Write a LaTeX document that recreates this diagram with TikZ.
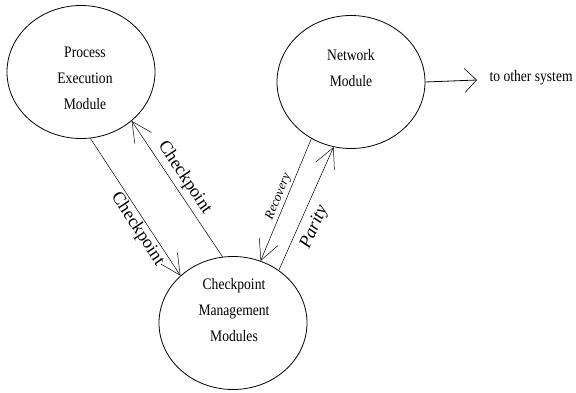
\documentclass[tikz,border=0pt]{standalone}
\usepackage{fontspec}
\setmainfont{Liberation Serif}[FakeStretch=0.85]
\newfontfamily\lblfont{Liberation Serif}
\usepackage{tikz}
\usetikzlibrary{arrows.meta}
\usetikzlibrary{shapes.geometric}
\tikzset{module/.style = {draw, ellipse, line width = 0.8pt, inner sep = 0,
                          minimum width = 148, minimum height = 133}}
\tikzset{modtext/.style = {align = center, font = \fontsize{16}{26}\selectfont}}
\tikzset{link/.style = {line width = 0.5pt,
                        -{Straight Barb[length = 20pt, width = 20pt, line width = 0.5pt]}}}
\tikzset{lbl/.style = {sloped, inner sep = 2pt, font = \lblfont\fontsize{18}{18}\selectfont}}

\begin{document}
\begin{tikzpicture}[x = 1pt, y = -1pt]
    \useasboundingbox (0, 0) rectangle (576, 393);
    \node [module] (proc) at (81, 72) {};
    \node [module] (net) at (351, 82) {};
    \node [module] (mgmt) at (233, 323) {};
    \node [modtext] (proctext) at (85, 78) {Process\\Execution\\Module};
    \node [modtext] (nettext) at (351, 68) {Network\\Module};
    \node [modtext] (mgmttext) at (234, 310) {Checkpoint\\Management\\Modules};
    \coordinate (out) at (477, 80);
    \node [anchor = west, font = \fontsize{16}{16}\selectfont] (other) at (486, 78) {to other system};
    \draw [line width = 0.8pt, -{Straight Barb[length = 12pt, width = 24pt, line width = 0.6pt]}] (net.east) -- (out);
    \draw [link] (proc.-82) -- node [lbl, below, pos = 0.62] {Checkpoint} (mgmt.138);
    \draw [link] (mgmt.99) -- node [lbl, above, pos = 0.53, inner sep = 4pt] {Checkpoint} (proc.-44);
    \draw [link] (net.-125) -- node [lbl, above, pos = 0.5,
                  font = \lblfont\itshape\fontsize{13}{13}\selectfont] {Recovery} (mgmt.66);
    \draw [link] (mgmt.49) -- node [lbl, below, pos = 0.4, inner sep = 7pt,
                  font = \lblfont\itshape\fontsize{18}{18}\selectfont] {Parity} (net.-105);
  \end{tikzpicture}
\end{document}
